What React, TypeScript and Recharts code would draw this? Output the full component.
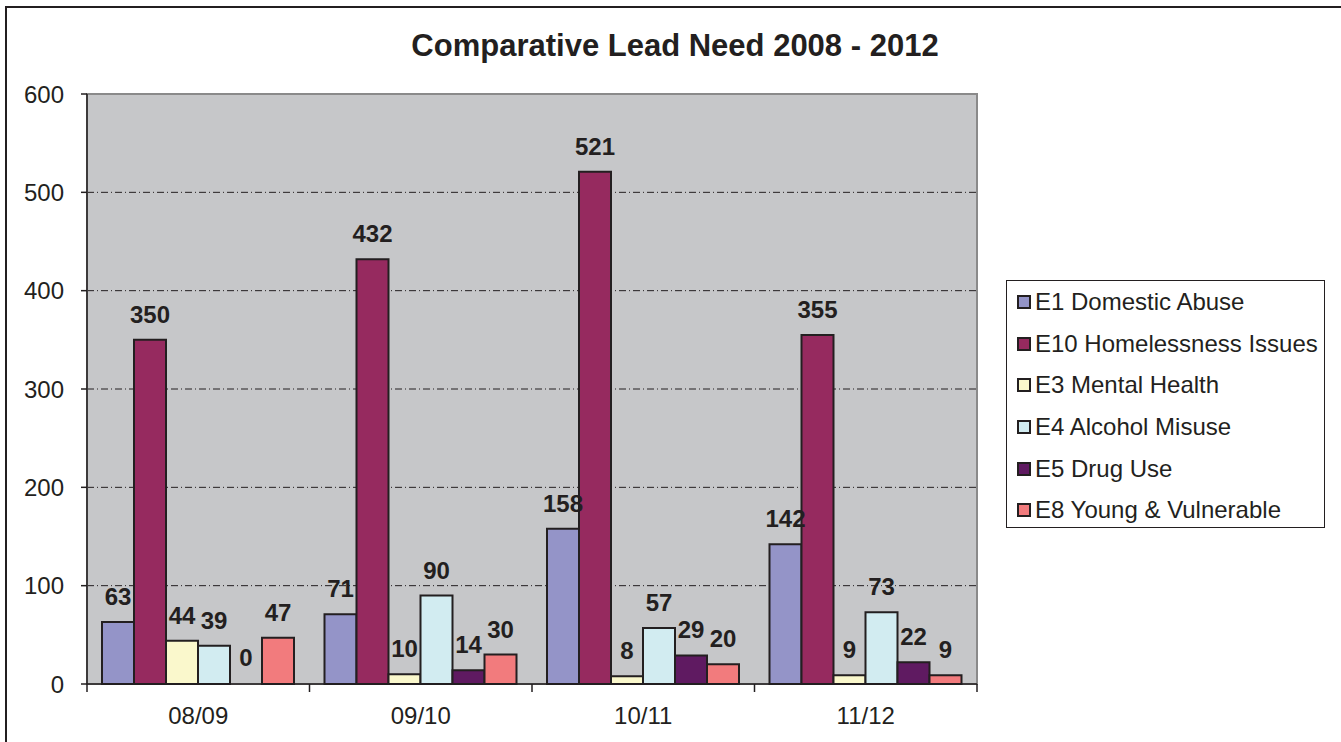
import React from "react";
import {
  BarChart,
  Bar,
  XAxis,
  YAxis,
  CartesianGrid,
  ReferenceArea,
  LabelList,
  Rectangle,
} from "recharts";

const years = ["08/09", "09/10", "10/11", "11/12"];
const domesticAbuse = [63, 71, 158, 142];
const homelessness = [350, 432, 521, 355];
const mentalHealth = [44, 10, 8, 9];
const alcoholMisuse = [39, 90, 57, 73];
const drugUse = [0, 14, 29, 22];
const youngVulnerable = [47, 30, 20, 9];
const yTicks = [0, 100, 200, 300, 400, 500, 600];

const series = [
  { key: "e1", name: "E1 Domestic Abuse", values: domesticAbuse, color: "#9494C8" },
  { key: "e10", name: "E10 Homelessness Issues", values: homelessness, color: "#962A5F" },
  { key: "e3", name: "E3 Mental Health", values: mentalHealth, color: "#FAF8CC" },
  { key: "e4", name: "E4 Alcohol Misuse", values: alcoholMisuse, color: "#D2ECF1" },
  { key: "e5", name: "E5 Drug Use", values: drugUse, color: "#5F1A61" },
  { key: "e8", name: "E8 Young & Vulnerable", values: youngVulnerable, color: "#F27B7D" },
];

const data = years.map((year, i) => {
  const row: Record<string, string | number> = { year };
  series.forEach((s) => {
    row[s.key] = s.values[i];
  });
  return row;
});

const INK = "#231F20";
const FONT = "'Liberation Sans', Arial, sans-serif";
const X_TICK = 8;
const X_MARGIN = 14;

function XTick(props: any) {
  const { x, y, payload, index, visibleTicksCount, width } = props;
  const half =
    payload && payload.offset > 0
      ? payload.offset
      : width && visibleTicksCount
      ? width / visibleTicksCount / 2
      : 111;
  const axisY = y - X_TICK - X_MARGIN;
  return (
    <g>
      <line x1={x - half} x2={x - half} y1={axisY} y2={axisY + X_TICK} stroke={INK} strokeWidth={1.5} />
      {index === visibleTicksCount - 1 && (
        <line x1={x + half} x2={x + half} y1={axisY} y2={axisY + X_TICK} stroke={INK} strokeWidth={1.5} />
      )}
      <text x={x} y={y + 18} textAnchor="middle" fontSize={24} fill={INK} fontFamily={FONT}>
        {payload.value}
      </text>
    </g>
  );
}

// zero values get no visible bar, only their label
function makeShape(key: string) {
  return (p: any) =>
    p.payload && p.payload[key] === 0 ? <g /> : <Rectangle {...p} />;
}

function ValueLabel(p: any) {
  const box = p.viewBox && p.viewBox.width != null ? p.viewBox : p;
  const x = Number(box.x);
  const y = Number(box.y);
  const w = Number(box.width);
  const h = Number(box.height);
  const top = Math.max(Math.min(y, y + h), y + h - 1 > y ? y : Math.min(y, y + h));
  return (
    <text
      x={x + w / 2}
      y={Math.min(top, 684) - 17}
      textAnchor="middle"
      fontSize={24}
      fontWeight="bold"
      fill={INK}
      fontFamily={FONT}
    >
      {p.value}
    </text>
  );
}

export default function App() {
  return (
    <div
      style={{
        position: "absolute",
        left: 0,
        top: 0,
        width: 1341,
        height: 742,
        overflow: "hidden",
        background: "#fff",
        fontFamily: FONT,
      }}
    >
      <div
        style={{
          position: "absolute",
          left: 5,
          top: 6,
          width: 1400,
          height: 800,
          border: `2px solid ${INK}`,
          boxSizing: "border-box",
        }}
      />
      <div
        style={{
          position: "absolute",
          left: 0,
          width: 1350,
          top: 28,
          textAlign: "center",
          fontSize: 31,
          fontWeight: "bold",
          color: INK,
        }}
      >
        Comparative Lead Need 2008 - 2012
      </div>
      <div style={{ position: "absolute", left: 0, top: 0 }}>
        <BarChart
          width={1341}
          height={742}
          data={data}
          margin={{ top: 94, right: 364, left: 7, bottom: 8 }}
          barCategoryGap={15}
          barGap={0}
          style={{ fontFamily: FONT }}
        >
          <CartesianGrid
            vertical={false}
            fill="#C6C7C9"
            stroke={INK}
            strokeDasharray="7 3 1 3"
            horizontalValues={[100, 200, 300, 400, 500]}
          />
          <ReferenceArea y1={0} y2={600} fill="none" stroke="#8A8A8A" strokeWidth={2} />
          <XAxis
            dataKey="year"
            height={50}
            axisLine={{ stroke: INK, strokeWidth: 1.5 }}
            tickLine={false}
            tickSize={X_TICK}
            tickMargin={X_MARGIN}
            tick={<XTick />}
            interval={0}
          />
          <YAxis
            domain={[0, 600]}
            ticks={yTicks}
            width={80}
            axisLine={{ stroke: INK, strokeWidth: 1.5 }}
            tickLine={{ stroke: INK, strokeWidth: 1.5 }}
            tickSize={6}
            tickMargin={17}
            tick={{ fontSize: 24, fill: INK, fontFamily: FONT }}
          />
          {series.map((s) => (
            <Bar
              key={s.key}
              dataKey={s.key}
              name={s.name}
              fill={s.color}
              stroke={INK}
              strokeWidth={2}
              minPointSize={1}
              shape={makeShape(s.key)}
              isAnimationActive={false}
            >
              <LabelList dataKey={s.key} content={<ValueLabel />} />
            </Bar>
          ))}
        </BarChart>
      </div>
      <div
        style={{
          position: "absolute",
          left: 1006,
          top: 280,
          width: 319,
          height: 248,
          border: `1.5px solid ${INK}`,
          boxSizing: "border-box",
          background: "#fff",
        }}
      >
        {series.map((s) => (
          <div
            key={s.key}
            style={{
              display: "flex",
              alignItems: "center",
              height: 41.7,
              fontSize: 24,
              color: INK,
              paddingLeft: 10,
            }}
          >
            <span
              style={{
                display: "inline-block",
                width: 10,
                height: 10,
                background: s.color,
                border: `2px solid ${INK}`,
                marginRight: 4,
              }}
            />
            {s.name}
          </div>
        ))}
      </div>
    </div>
  );
}
